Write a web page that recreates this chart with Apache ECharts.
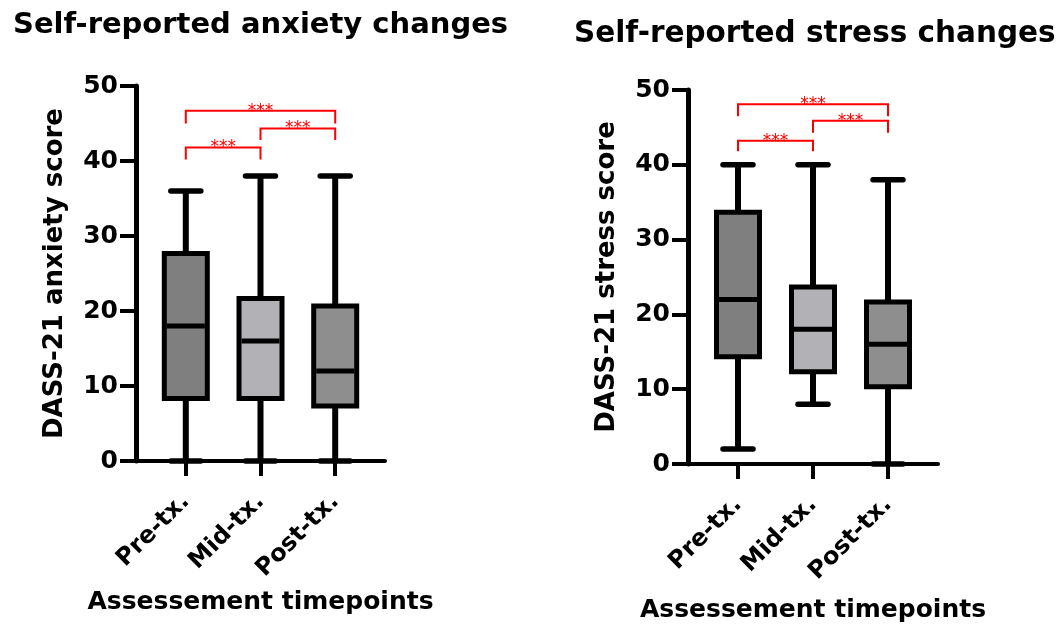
<!DOCTYPE html>
<html><head><meta charset="utf-8">
<script src="https://cdn.jsdelivr.net/npm/echarts@6/dist/echarts.min.js"></script>
<style>html,body{margin:0;padding:0;background:#fff}#c{width:1061px;height:626px}</style>
</head><body><div id="c"></div>
<script>
// ---- data ----
const categories = ['Pre-tx.', 'Mid-tx.', 'Post-tx.'];
const yTicks = [0, 10, 20, 30, 40, 50];

const anxietyMin    = [0, 0, 0];
const anxietyQ1     = [8, 8, 7];
const anxietyMedian = [18, 16, 12];
const anxietyQ3     = [28, 22, 21];
const anxietyMax    = [36, 38, 38];

const stressMin    = [2, 8, 0];
const stressQ1     = [14, 12, 10];
const stressMedian = [22, 18, 16];
const stressQ3     = [34, 24, 22];
const stressMax    = [40, 40, 38];

// significance brackets: [from category, to category]
const sigPairs = [[0, 1], [1, 2], [0, 2]];
const sigLabels = ['***', '***', '***'];
const anxietyBracketTop = [41.8, 44.35, 46.7];
const anxietyBracketLeg = [40.2, 42.8, 45.0];
const stressBracketTop  = [43.2, 45.9, 48.1];
const stressBracketLeg  = [41.8, 44.3, 46.5];

// ---- styling ----
const FONT = 'DejaVu Sans';
const boxColors = ['#7f7f7f', '#b1b1b6', '#8e8e8e'];

function boxData(mn, q1, md, q3, mx) {
  return categories.map((c, i) => [i + 1, mn[i], q1[i], md[i], q3[i], mx[i]]);
}
function bracketData(top, leg) {
  return sigPairs.map((p, i) => [p[0] + 1, p[1] + 1, top[i], leg[i]]);
}

function renderBox(params, api) {
  const pos = api.value(0);
  const yMin = api.coord([pos, api.value(1)])[1];
  const yQ1 = api.coord([pos, api.value(2)])[1];
  const yMed = api.coord([pos, api.value(3)])[1];
  const yQ3 = api.coord([pos, api.value(4)])[1];
  const yMax = api.coord([pos, api.value(5)])[1];
  const cx = api.coord([pos, 0])[0];
  const half = 24, bw = 5, capHalf = 15;
  return {
    type: 'group',
    children: [
      { type: 'line', shape: { x1: cx, y1: yMax, x2: cx, y2: yMin }, style: { stroke: '#000', lineWidth: 6 } },
      { type: 'line', shape: { x1: cx - capHalf, y1: yMax, x2: cx + capHalf, y2: yMax }, style: { stroke: '#000', lineWidth: 5.5, lineCap: 'round' } },
      { type: 'line', shape: { x1: cx - capHalf, y1: yMin, x2: cx + capHalf, y2: yMin }, style: { stroke: '#000', lineWidth: 5.5, lineCap: 'round' } },
      { type: 'rect', shape: { x: cx - half + bw / 2, y: yQ3 + bw / 2, width: 2 * half - bw, height: yQ1 - yQ3 - bw },
        style: { fill: boxColors[params.dataIndex], stroke: '#000', lineWidth: bw } },
      { type: 'line', shape: { x1: cx - half + bw, y1: yMed, x2: cx + half - bw, y2: yMed }, style: { stroke: '#000', lineWidth: 5 } }
    ]
  };
}

function renderBracket(params, api) {
  const x1 = api.value(0), x2 = api.value(1), top = api.value(2), leg = api.value(3);
  const a = api.coord([x1, leg]), b = api.coord([x1, top]), c = api.coord([x2, top]), d = api.coord([x2, leg]);
  return {
    type: 'group',
    children: [
      { type: 'polyline', shape: { points: [a, b, c, d] }, style: { stroke: '#ff0000', lineWidth: 2, fill: null } },
      { type: 'text', x: (b[0] + c[0]) / 2, y: b[1] + 9,
        style: { text: sigLabels[params.dataIndex], fill: '#ff0000', fontSize: 17, fontFamily: FONT, align: 'center', verticalAlign: 'bottom' } }
    ]
  };
}

function makeXAxis(gridIndex, nameGap) {
  return {
    type: 'value', gridIndex: gridIndex, min: 1 / 3, max: 11 / 3,
    name: 'Assessement timepoints', nameLocation: 'middle', nameGap: nameGap,
    nameTextStyle: { fontFamily: FONT, fontWeight: 'bold', fontSize: 25, color: '#000' },
    axisLine: { show: true, lineStyle: { color: '#000', width: 4 } },
    axisTick: { show: true, customValues: [1, 2, 3], length: 15, lineStyle: { color: '#000', width: 4 } },
    axisLabel: { show: true, customValues: [1, 2, 3], rotate: 45, margin: 37,
      formatter: v => categories[Math.round(v) - 1] || '',
      fontFamily: FONT, fontWeight: 'bold', fontSize: 24, color: '#000' },
    splitLine: { show: false }
  };
}
function makeYAxis(gridIndex, name) {
  return {
    type: 'value', gridIndex: gridIndex, min: yTicks[0], max: yTicks[yTicks.length - 1], interval: 10,
    name: name, nameLocation: 'middle', nameGap: 68,
    nameTextStyle: { fontFamily: FONT, fontWeight: 'bold', fontSize: 26, color: '#000' },
    axisLine: { show: true, lineStyle: { color: '#000', width: 5 } },
    axisTick: { show: true, length: 16, lineStyle: { color: '#000', width: 4 } },
    axisLabel: { margin: 18, fontFamily: FONT, fontWeight: 'bold', fontSize: 25, color: '#000' },
    splitLine: { show: false }
  };
}

const chart = echarts.init(document.getElementById('c'), null, { renderer: 'canvas' });
chart.setOption({
  backgroundColor: '#fff',
  animation: false,
  title: [
    { text: 'Self-reported anxiety changes', left: 8, top: 6,
      textStyle: { fontFamily: FONT, fontWeight: 'bold', fontSize: 29, color: '#000' } },
    { text: 'Self-reported stress changes', left: 569, top: 14,
      textStyle: { fontFamily: FONT, fontWeight: 'bold', fontSize: 29.5, color: '#000' } }
  ],
  grid: [
    { left: 136, top: 86, width: 249, height: 375, containLabel: false, outerBoundsMode: 'none' },
    { left: 688, top: 90, width: 250, height: 374, containLabel: false, outerBoundsMode: 'none' }
  ],
  xAxis: [makeXAxis(0, 129), makeXAxis(1, 134)],
  yAxis: [makeYAxis(0, 'DASS-21 anxiety score'), makeYAxis(1, 'DASS-21 stress score')],
  series: [
    { type: 'custom', xAxisIndex: 0, yAxisIndex: 0, renderItem: renderBox, clip: false,
      data: boxData(anxietyMin, anxietyQ1, anxietyMedian, anxietyQ3, anxietyMax), z: 3 },
    { type: 'custom', xAxisIndex: 1, yAxisIndex: 1, renderItem: renderBox, clip: false,
      data: boxData(stressMin, stressQ1, stressMedian, stressQ3, stressMax), z: 3 },
    { type: 'custom', xAxisIndex: 0, yAxisIndex: 0, renderItem: renderBracket, clip: false,
      data: bracketData(anxietyBracketTop, anxietyBracketLeg), z: 4 },
    { type: 'custom', xAxisIndex: 1, yAxisIndex: 1, renderItem: renderBracket, clip: false,
      data: bracketData(stressBracketTop, stressBracketLeg), z: 4 }
  ]
});
</script>
</body></html>
